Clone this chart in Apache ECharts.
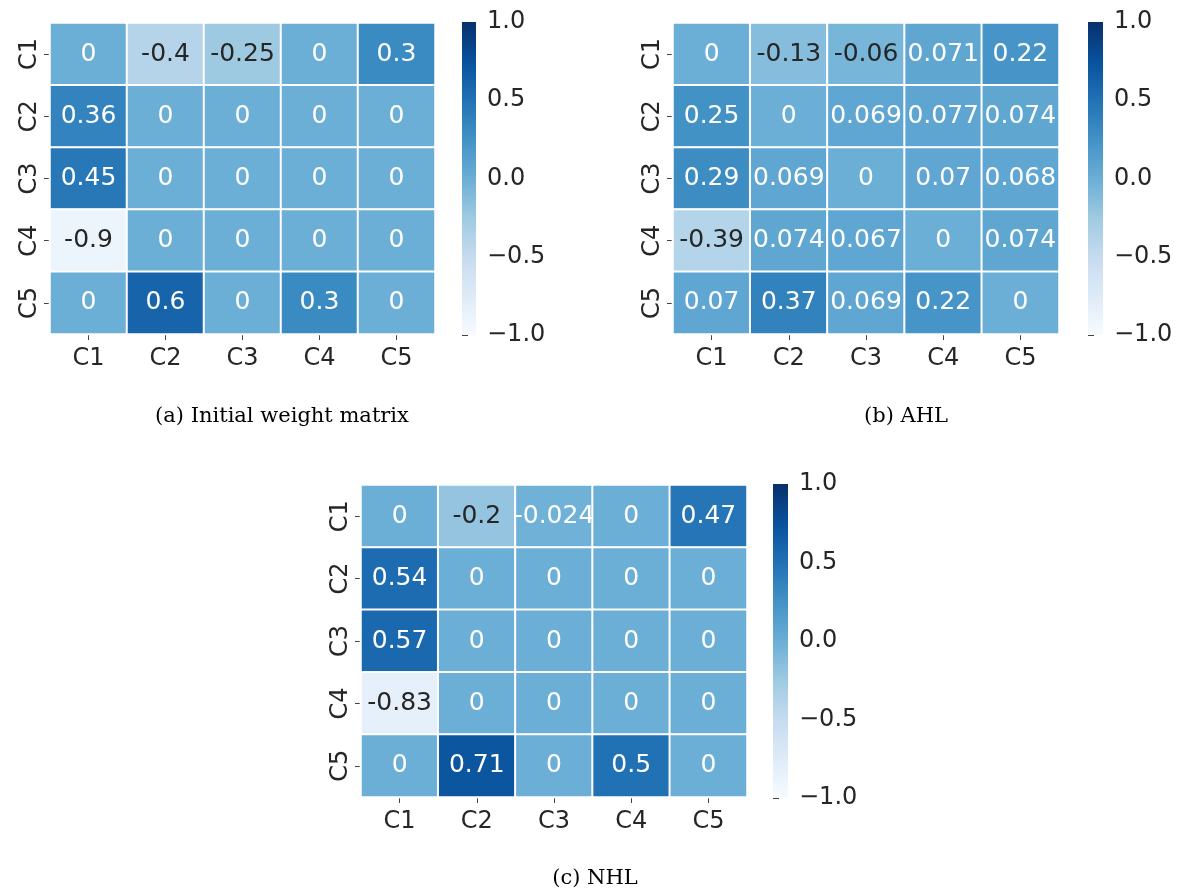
<!DOCTYPE html>
<html>
<head>
<meta charset="utf-8">
<script src="https://cdn.jsdelivr.net/npm/echarts@6/dist/echarts.min.js"></script>
<style>
html,body{margin:0;padding:0;background:#fff;}
#chart{width:1184px;height:896px;}
</style>
</head>
<body>
<div id="chart"></div>
<script>
// ---- data ----
const cats = ['C1', 'C2', 'C3', 'C4', 'C5'];
const matA = [
  [0, -0.4, -0.25, 0, 0.3],
  [0.36, 0, 0, 0, 0],
  [0.45, 0, 0, 0, 0],
  [-0.9, 0, 0, 0, 0],
  [0, 0.6, 0, 0.3, 0]
];
const matB = [
  [0, -0.13, -0.06, 0.071, 0.22],
  [0.25, 0, 0.069, 0.077, 0.074],
  [0.29, 0.069, 0, 0.07, 0.068],
  [-0.39, 0.074, 0.067, 0, 0.074],
  [0.07, 0.37, 0.069, 0.22, 0]
];
const matC = [
  [0, -0.2, -0.024, 0, 0.47],
  [0.54, 0, 0, 0, 0],
  [0.57, 0, 0, 0, 0],
  [-0.83, 0, 0, 0, 0],
  [0, 0.71, 0, 0.5, 0]
];
const cbTicks = [-1, -0.5, 0, 0.5, 1];
const captions = ['(a) Initial weight matrix', '(b) AHL', '(c) NHL'];

// ---- styling / layout ----
const blues = ['#f7fbff','#deebf7','#c6dbef','#9ecae1','#6baed6','#4292c6','#2171b5','#08519c','#08306b'];
const panels = [
  {mat: matA, grid: {left: 50, top: 23, width: 385, height: 311}, cb: {left: 462, top: 22, width: 14, height: 313}, cap: {x: 282, y: 417}},
  {mat: matB, grid: {left: 673, top: 23, width: 386, height: 311}, cb: {left: 1088, top: 22, width: 15, height: 313}, cap: {x: 906, y: 417}},
  {mat: matC, grid: {left: 361, top: 485, width: 386, height: 312}, cb: {left: 773, top: 484, width: 15, height: 314}, cap: {x: 595, y: 879}}
];
const FONT = 'DejaVu Sans';
const txt = '#262626';

function fmtTick(v) {
  const s = Math.abs(v).toFixed(1);
  return v < 0 ? '\u2212' + s : s;
}

const grid = [], xAxis = [], yAxis = [], series = [], visualMap = [], graphic = [];

panels.forEach((p, i) => {
  grid.push(Object.assign({containLabel: false}, p.grid));
  xAxis.push({
    type: 'category', data: cats, gridIndex: i, position: 'bottom',
    axisLine: {show: false},
    axisTick: {show: true, length: 6, alignWithLabel: true, lineStyle: {color: '#444'}},
    axisLabel: {fontSize: 24, fontFamily: FONT, color: txt, margin: 13},
    splitArea: {show: false}, splitLine: {show: false}
  });
  yAxis.push({
    type: 'category', data: cats, gridIndex: i, inverse: true,
    axisLine: {show: false},
    axisTick: {show: true, length: 6, alignWithLabel: true, lineStyle: {color: '#444'}},
    axisLabel: {fontSize: 24, fontFamily: FONT, color: txt, margin: 8, rotate: 90},
    splitArea: {show: false}, splitLine: {show: false}
  });
  const data = [];
  p.mat.forEach((row, r) => row.forEach((v, c) => {
    data.push({value: [c, r, v], label: {color: v < -0.04 ? txt : '#ffffff'}});
  }));
  series.push({
    type: 'heatmap', xAxisIndex: i, yAxisIndex: i, data: data,
    itemStyle: {borderColor: '#ffffff', borderWidth: 2},
    label: {show: true, fontSize: 25, fontFamily: FONT, formatter: (d) => String(d.value[2])},
    emphasis: {disabled: true}
  });
  visualMap.push({
    type: 'continuous', seriesIndex: i, min: -1, max: 1, show: false,
    inRange: {color: blues}
  });
});

// colorbars: gradient rect + tick axis
const gradStops = blues.map((c, k) => ({offset: 1 - k / (blues.length - 1), color: c})).reverse();
panels.forEach((p, i) => {
  const gi = panels.length + i;
  grid.push({left: p.cb.left, top: p.cb.top, width: p.cb.width, height: p.cb.height, containLabel: false});
  xAxis.push({type: 'value', gridIndex: gi, show: false, min: 0, max: 1});
  yAxis.push({
    type: 'value', gridIndex: gi, position: 'right', min: cbTicks[0], max: cbTicks[cbTicks.length - 1], interval: 0.5,
    axisLine: {show: false},
    axisTick: {show: true, length: 6, lineStyle: {color: '#444'}},
    axisLabel: {fontSize: 24, fontFamily: FONT, color: txt, margin: 11, formatter: fmtTick},
    splitLine: {show: false}
  });
  graphic.push({
    type: 'rect', z: 10,
    shape: {x: p.cb.left, y: p.cb.top, width: p.cb.width, height: p.cb.height},
    style: {fill: new echarts.graphic.LinearGradient(0, 0, 0, 1, gradStops)}
  });
  graphic.push({
    type: 'text', z: 10, x: p.cap.x, y: p.cap.y,
    style: {text: captions[i], font: '21px DejaVu Serif', fill: '#000', align: 'center', verticalAlign: 'middle'}
  });
});

const chart = echarts.init(document.getElementById('chart'), null, {renderer: 'canvas'});
chart.setOption({
  animation: false,
  backgroundColor: '#ffffff',
  grid, xAxis, yAxis, series, visualMap, graphic
});
</script>
</body>
</html>
